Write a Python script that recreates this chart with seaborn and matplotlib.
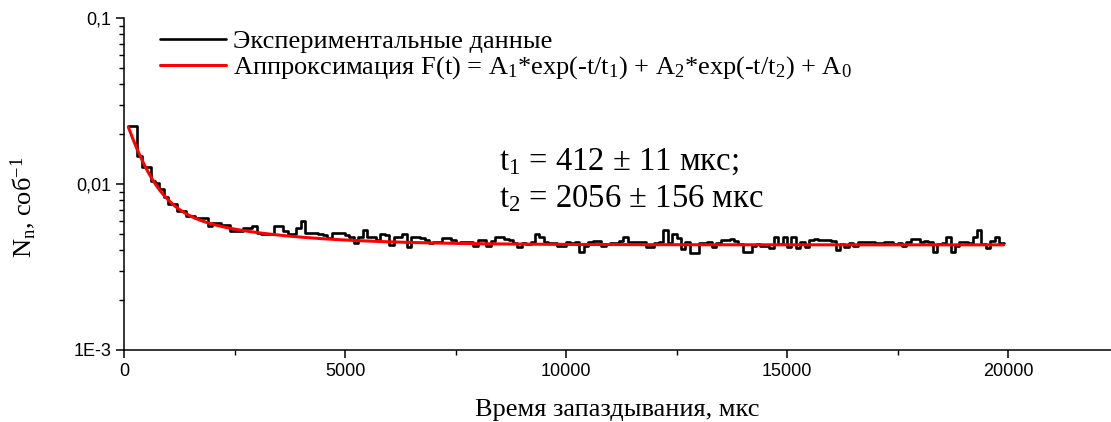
import numpy as np
import matplotlib
matplotlib.use("Agg")
import matplotlib.pyplot as plt
import seaborn as sns
from matplotlib.ticker import (FixedLocator, FixedFormatter, LogLocator,
                               MultipleLocator, NullFormatter)

# Count rate per delay bin (bins of 100 us starting at 100 us)
t_first = 100
bin_width = 100
rate = [
    0.0224, 0.0224, 0.0147, 0.0127, 0.0127, 0.0104, 0.0102, 0.0093, 0.0083, 0.0076,
    0.0076, 0.0069, 0.0069, 0.0064, 0.0064, 0.0062, 0.0062, 0.0062, 0.0056, 0.0058,
    0.0058, 0.0057, 0.0057, 0.0052, 0.0052, 0.0052, 0.0054, 0.0054, 0.0056, 0.0051,
    0.0050, 0.0050, 0.0050, 0.0056, 0.0056, 0.0052, 0.0050, 0.0050,
    # 3900 .. 7700
    0.0054, 0.0060, 0.0051, 0.0051, 0.0051, 0.0050, 0.0049, 0.0047, 0.0051, 0.0051,
    0.0051, 0.0049, 0.0048, 0.0044, 0.0048, 0.0053, 0.0048, 0.0048, 0.0046, 0.0050,
    0.0049, 0.0043, 0.0048, 0.0048, 0.0050, 0.0042, 0.0048, 0.0048, 0.0047, 0.0046,
    0.0044, 0.0045, 0.0045, 0.0047, 0.0047, 0.0046, 0.0044, 0.0045, 0.0045,
    # 7800 .. 11500
    0.0045, 0.00425, 0.0046, 0.0046, 0.00425, 0.00455, 0.00477, 0.00477, 0.00466, 0.0046,
    0.0044, 0.0042, 0.0044, 0.00435, 0.00445, 0.0050, 0.00477, 0.00445, 0.0044, 0.0044,
    0.00425, 0.00425, 0.00445, 0.0044, 0.00445, 0.0039, 0.00425, 0.00445, 0.00455, 0.00455,
    0.00425, 0.00435, 0.0044, 0.0044, 0.00455, 0.00477, 0.0045, 0.0045,
    # 11600 .. 15400
    0.00445, 0.00445, 0.0042, 0.0042, 0.0044, 0.00445, 0.0053, 0.0044, 0.0050, 0.0047,
    0.00406, 0.0045, 0.00385, 0.00385, 0.0044, 0.0044, 0.0045, 0.00415, 0.0044, 0.0046,
    0.0046, 0.00466, 0.00455, 0.00435, 0.0039, 0.0039, 0.00425, 0.00435, 0.00425, 0.00425,
    0.0041, 0.00477, 0.00435, 0.00477, 0.00415, 0.00477, 0.0041, 0.00445, 0.00415,
    # 15500 .. 19800
    0.0046, 0.00466, 0.0046, 0.0046, 0.0046, 0.00451, 0.0040, 0.00435, 0.0042, 0.0044,
    0.00425, 0.0045, 0.0045, 0.00445, 0.0045, 0.0044, 0.0044, 0.00445, 0.00445, 0.00435,
    0.0044, 0.00425, 0.00445, 0.00466, 0.00466, 0.0045, 0.00455, 0.0045, 0.0039, 0.00435,
    0.0044, 0.00477, 0.0039, 0.00425, 0.00445, 0.00445, 0.0044, 0.00477, 0.00525, 0.00435,
    0.0041, 0.00455, 0.00477, 0.0044,
]

# Two-exponential fit parameters
A1, tau1, tau1_err = 0.0184, 412, 11
A2, tau2, tau2_err = 0.0034, 2056, 156
A0 = 0.0043

y_ticks = [0.001, 0.01, 0.1]
y_tick_labels = ["1E-3", "0,01", "0,1"]
x_ticks = [0, 5000, 10000, 15000, 20000]

label_data = "Экспериментальные данные"
label_fit = ("Аппроксимация F(t) = A$_1$*exp(-t/t$_1$) + "
             "A$_2$*exp(-t/t$_2$) + A$_0$")
x_label = "Время запаздывания, мкс"
y_label = "N$_n$, соб$^{-1}$"

sns.set_style("ticks", {"axes.edgecolor": "black", "xtick.color": "black",
                        "ytick.color": "black", "text.color": "black",
                        "axes.labelcolor": "black"})
plt.rcParams["font.family"] = ["Liberation Serif", "DejaVu Serif"]
plt.rcParams["mathtext.default"] = "regular"

fig = plt.figure(figsize=(11.11, 4.22), dpi=100)
ax = fig.add_axes([124 / 1111, 72 / 422, 987 / 1111, 332 / 422])

# step histogram: bin left edges plus the closing edge of the last bin
rate_arr = np.array(rate)
edges = t_first + bin_width * np.arange(len(rate_arr) + 1)
step_y = np.append(rate_arr, rate_arr[-1])
sns.lineplot(x=edges, y=step_y, drawstyle="steps-post", color="black",
             linewidth=1.9, label=label_data, ax=ax, estimator=None)

t_fit = np.linspace(edges[0], edges[-1], 600)
f_fit = A1 * np.exp(-t_fit / tau1) + A2 * np.exp(-t_fit / tau2) + A0
sns.lineplot(x=t_fit, y=f_fit, color="red", linewidth=2.2, label=label_fit,
             ax=ax, estimator=None)

ax.set_yscale("log")
ax.set_ylim(1e-3, 0.1)
ax.set_xlim(0, 22330)

ax.yaxis.set_major_locator(FixedLocator(y_ticks))
ax.yaxis.set_major_formatter(FixedFormatter(y_tick_labels))
ax.yaxis.set_minor_locator(LogLocator(base=10, subs=np.arange(2, 10)))
ax.yaxis.set_minor_formatter(NullFormatter())
ax.set_xticks(x_ticks)
ax.xaxis.set_minor_locator(MultipleLocator(2500))

ax.tick_params(which="major", direction="out", length=6, width=1.1,
               labelsize=13, labelfontfamily="Liberation Sans", pad=3)
ax.tick_params(which="minor", direction="out", length=3.5, width=1.0)
sns.despine(ax=ax)
for side in ("left", "bottom"):
    ax.spines[side].set_linewidth(1.1)
    ax.spines[side].set_color("black")

ax.set_xlabel(x_label, fontsize=19, labelpad=14)
ax.set_ylabel(y_label, fontsize=19)
ax.yaxis.set_label_coords(-0.087, 0.43)

ax.legend(loc="upper left", bbox_to_anchor=(0.036, 0.965), frameon=False,
          fontsize=19, handlelength=2.5, handletextpad=0.3,
          labelspacing=0.05, borderpad=0, borderaxespad=0)

ax.text(0.380, 0.542, f"t$_1$ = {tau1} ± {tau1_err} мкс;",
        transform=ax.transAxes, fontsize=23.5, va="baseline", ha="left")
ax.text(0.380, 0.431, f"t$_2$ = {tau2} ± {tau2_err} мкс",
        transform=ax.transAxes, fontsize=23.5, va="baseline", ha="left")

fig.savefig("out.png", dpi=100)
